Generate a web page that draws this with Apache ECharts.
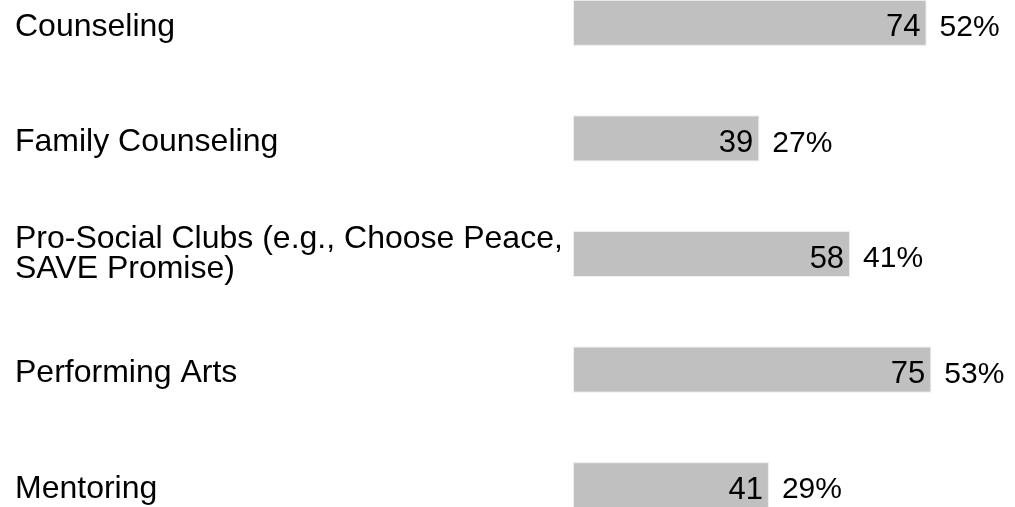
<!DOCTYPE html>
<html>
<head>
<meta charset="utf-8">
<script src="https://cdn.jsdelivr.net/npm/echarts@6/dist/echarts.min.js"></script>
<style>
  html, body { margin: 0; padding: 0; background: #fff; width: 1015px; height: 507px; overflow: hidden; }
  #chart { width: 1015px; height: 578px; margin-top: -35px; }
</style>
</head>
<body>
<div id="chart"></div>
<script>
const categories = [
  "Counseling",
  "Family Counseling",
  "Pro-Social Clubs (e.g., Choose Peace,\nSAVE Promise)",
  "Performing Arts",
  "Mentoring"
];
const counts = [74, 39, 58, 75, 41];
const percents = ["52%", "27%", "41%", "53%", "29%"];

let myChart = echarts.init(document.getElementById("chart"));

let option = {
  animation: false,
  textStyle: { fontFamily: "Liberation Sans, Arial, sans-serif" },
  grid: {
    left: 573,
    right: 12,
    top: 0,
    bottom: 0
  },
  xAxis: {
    type: "value",
    min: 0,
    max: 90,
    show: false
  },
  yAxis: {
    type: "category",
    data: categories,
    inverse: true,
    axisLine: { show: false },
    axisTick: { show: false },
    splitLine: { show: false },
    axisLabel: {
      align: "left",
      margin: 558,
      color: "#000",
      fontSize: 32,
      lineHeight: 30,
      fontFamily: "Liberation Sans, Arial, sans-serif",
      // single-line labels sit a little below the bar centre
      formatter: (v) => v.indexOf("\n") < 0 ? "{s|" + v + "}" : v,
      rich: {
        s: {
          fontSize: 32,
          lineHeight: 30,
          color: "#000",
          padding: [8, 0, 0, 0],
          fontFamily: "Liberation Sans, Arial, sans-serif"
        }
      }
    }
  },
  series: [
    {
      type: "bar",
      data: counts,
      barWidth: 46,
      itemStyle: {
        color: "#c0c0c0",
        borderColor: "#efefef",
        borderWidth: 1
      },
      label: {
        show: true,
        position: "insideRight",
        distance: 6,
        offset: [0, 5],
        color: "#000",
        fontSize: 31,
        fontFamily: "Liberation Sans, Arial, sans-serif"
      }
    },
    {
      type: "bar",
      data: counts,
      barWidth: 46,
      barGap: "-100%",
      itemStyle: { color: "rgba(0,0,0,0)" },
      label: {
        show: true,
        position: "right",
        distance: 13,
        offset: [0, 5],
        color: "#000",
        fontSize: 30,
        fontFamily: "Liberation Sans, Arial, sans-serif",
        formatter: (p) => percents[p.dataIndex]
      }
    }
  ]
};

myChart.setOption(option);
</script>
</body>
</html>
